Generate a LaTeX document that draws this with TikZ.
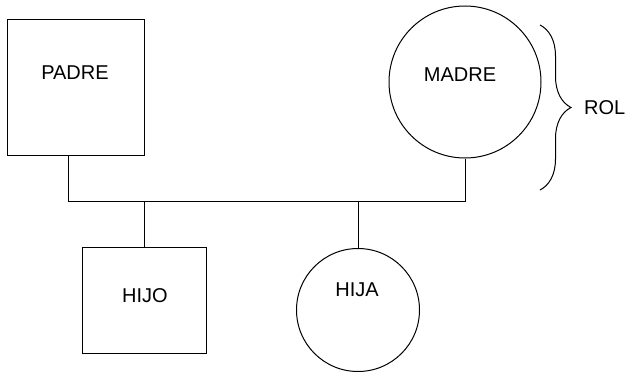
\documentclass[tikz,border=0pt]{standalone}
\usepackage{fontspec}
\setmainfont{Liberation Sans}
\usetikzlibrary{decorations.pathreplacing}
\begin{document}
\begin{tikzpicture}[x=1pt,y=-1pt,
  line/.style={draw=black,line width=1pt},
  male/.style={line,rectangle,inner sep=0pt},
  female/.style={line,circle,inner sep=0pt},
  lbl/.style={font=\fontsize{20}{22}\selectfont,inner sep=0pt}]
\useasboundingbox (0,0) rectangle (640,372);
\node[male,minimum width=137pt,minimum height=136pt] (padre) at (75.5,87) {};
\node[female,minimum size=152pt] (madre) at (465,82) {};
\node[male,minimum width=124pt,minimum height=106pt] (hijo) at (144,300) {};
\node[female,minimum size=123pt] (hija) at (358,310) {};
\node[lbl] (tpadre) at (75,73) {PADRE};
\node[lbl] (tmadre) at (460,75) {MADRE};
\node[lbl] (thijo) at (145,296) {HIJO};
\node[lbl] (thija) at (357,290) {HIJA};
\node[lbl,anchor=west] (trol) at (584,108) {ROL};
\coordinate (jl) at (68,201);
\coordinate (jr) at (465,201);
\draw[line] (jl |- padre.south) -- (jl) -- (jr) -- (madre.south);
\draw[line] (hijo.north) -- (hijo.north |- jl);
\draw[line] (hija.north) -- (hija.north |- jl);
\coordinate (bt) at (540,25);
\coordinate (bb) at (540,190);
\draw[line,decorate,decoration={brace,amplitude=31pt,aspect=0.5}] (bt) -- (bb);
\end{tikzpicture}
\end{document}
